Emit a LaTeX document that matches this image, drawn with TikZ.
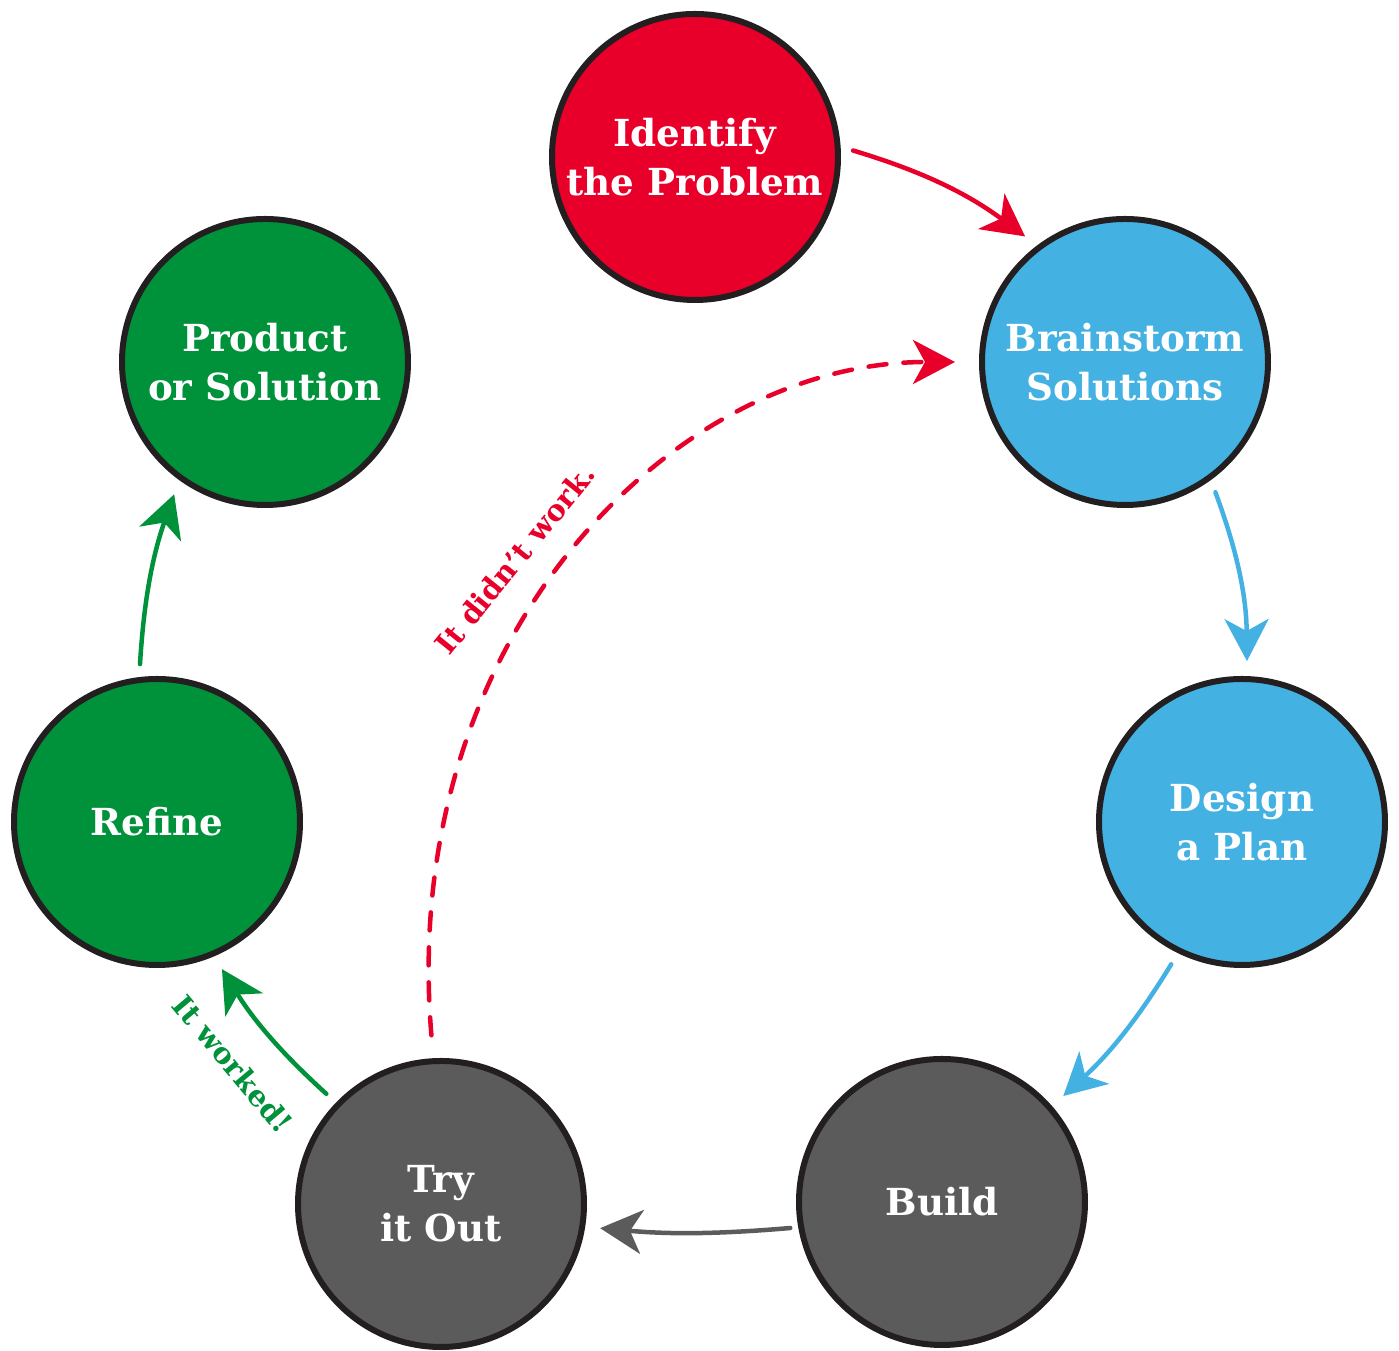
\documentclass[tikz,border=0pt]{standalone}
\usepackage{fontspec}
\setmainfont{DejaVu Serif}
\usetikzlibrary{arrows.meta}
\definecolor{stepred}{HTML}{E8002A}
\definecolor{stepblue}{HTML}{44B1E3}
\definecolor{stepgreen}{HTML}{00923A}
\definecolor{stepgray}{HTML}{5B5B5B}
\definecolor{rim}{HTML}{231F20}
\tikzset{
  stage/.style={circle, draw=rim, line width=0.06cm, minimum size=2.86cm, inner sep=0pt, text=white, align=center, font=\bfseries\fontsize{10.6}{14}\selectfont},
  flow/.style={line width=0.045cm, line cap=round, line join=round, -{Stealth[length=0.42cm,width=0.44cm,inset=0.12cm]}, shorten <=0.13cm, shorten >=0.15cm},
  note/.style={font=\bfseries\fontsize{8.3}{10}\selectfont, inner sep=1pt}
}
\begin{document}
\begin{tikzpicture}
\useasboundingbox (0,0) rectangle (13.99,13.51);
\node[stage, fill=stepred] (idp) at (6.95,11.94) {Identify\\the Problem};
\node[stage, fill=stepblue] (brs) at (11.25,9.89) {Brainstorm\\Solutions};
\node[stage, fill=stepblue] (dap) at (12.42,5.29) {Design\\a Plan};
\node[stage, fill=stepgray] (bld) at (9.42,1.49) {Build};
\node[stage, fill=stepgray] (tio) at (4.41,1.47) {Try\\it Out};
\node[stage, fill=stepgreen] (rfn) at (1.57,5.29) {Refine};
\node[stage, fill=stepgreen] (pos) at (2.65,9.89) {Product\\or Solution};
\draw[flow, stepred] (idp.4) to[bend left=10] (brs.127);
\draw[flow, stepblue] (brs.-54) to[bend left=10] (dap.88);
\draw[flow, stepblue] (dap.-116) to[bend left=8] (bld.41);
\draw[flow, stepgray, shorten <=0.08cm] (bld.190) to[bend left=5] (tio.-9);
\draw[flow, stepgreen] (tio.136) to[bend left=8] (rfn.-67);
\draw[flow, stepgreen] (rfn.97) to[bend left=8] (pos.234);
\draw[flow, stepred, dash pattern=on 0.18cm off 0.17cm, shorten <=0.23cm, shorten >=0.24cm] (tio.93) .. controls (3.98,7.1) and (6.7,9.89) .. (brs.180);
\node[note, text=stepred, rotate=51] (fail) at (5.15,7.92) {It didn’t work.};
\node[note, text=stepgreen, rotate=-50] (pass) at (2.33,2.87) {It worked!};
\end{tikzpicture}
\end{document}
